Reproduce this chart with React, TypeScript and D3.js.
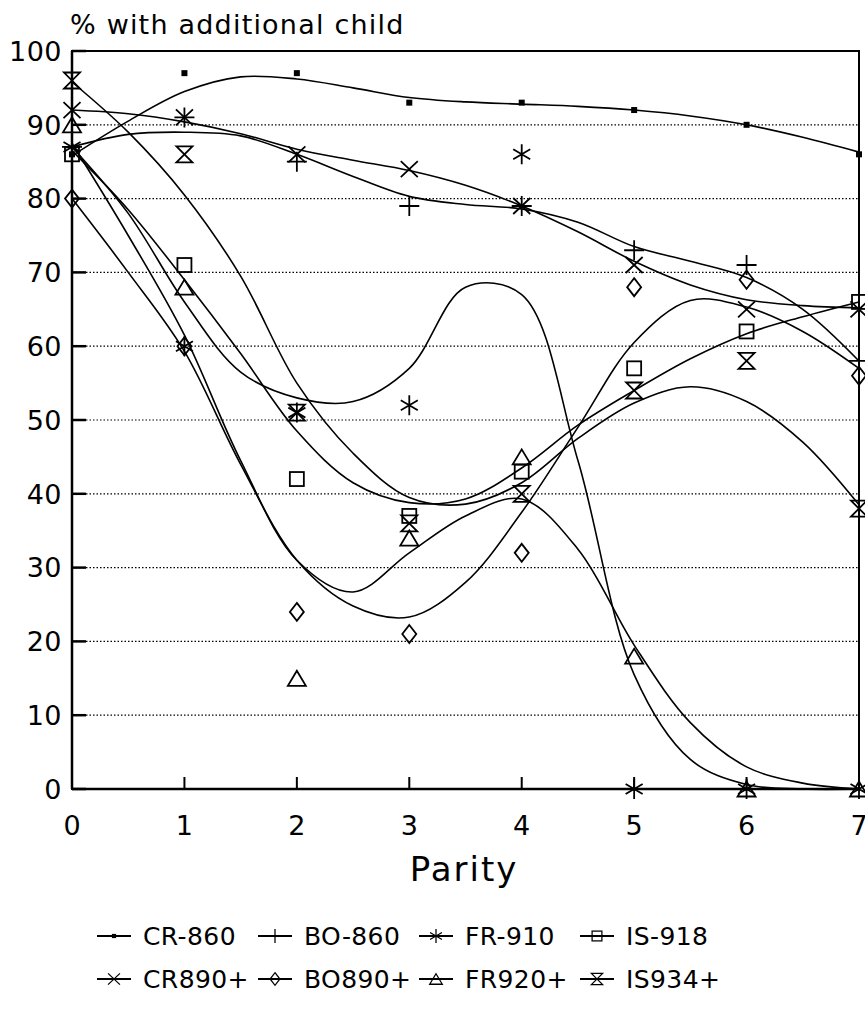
import React from "react";
import { scaleLinear, line, curveCatmullRom } from "d3";

const width = 865;
const height = 1021;

// parity values where the markers sit
const parity = [0, 1, 2, 3, 4, 5, 6, 7];
const fitParity = [0, 0.5, 1, 1.5, 2, 2.5, 3, 3.5, 4, 4.5, 5, 5.5, 6, 6.5, 7];

const yTicks = [0, 10, 20, 30, 40, 50, 60, 70, 80, 90, 100];
const xTicks = [0, 1, 2, 3, 4, 5, 6, 7];

// observed % with an additional child
const CR860 = [86, 97, 97, 93, 93, 92, 90, 86];
const BO860 = [87, 91, 85, 79, 79, 73, 71, 58];
const FR910 = [87, 60, 51, 52, 86, 0, 0, 0];
const IS918 = [86, 71, 42, 37, 43, 57, 62, 66];
const CR890 = [92, 91, 86, 84, 79, 71, 65, 65];
const BO890 = [80, 60, 24, 21, 32, 68, 69, 56];
const FR920 = [90, 68, 15, 34, 45, 18, 0, 0];
const IS934 = [96, 86, 51, 36, 40, 54, 58, 38];

// smoothed curves at fitParity
const CR860_FIT = [85.8, 90.5, 94.5, 96.5, 96.2, 95, 93.7, 93.1, 92.8, 92.5, 92, 91.2, 90, 88.3, 86.3];
const BO860_FIT = [87, 88.7, 89, 88.5, 86, 83, 80.3, 79.2, 78.6, 76.8, 73.5, 71.5, 69.3, 65, 58];
const FR910_FIT = [87, 78, 66, 56.5, 53, 52.5, 57, 68, 67, 44.5, 15.5, 4, 0.6, 0, 0];
const IS918_FIT = [86.5, 78.5, 69, 59, 48.5, 41.5, 38.8, 39.3, 43.5, 49.3, 54, 58.3, 61.7, 64, 66];
const CR890_FIT = [92, 91.5, 90.4, 88.8, 86.7, 85.2, 83.8, 81.8, 79, 75.5, 71.5, 68.3, 66.3, 65.5, 65.2];
const BO890_FIT = [80, 70, 59.3, 44, 31, 24.8, 23.3, 28, 37.5, 49, 60.5, 66.2, 65.3, 62, 57];
const FR920_FIT = [87.5, 75, 61.5, 44.5, 31, 26.7, 32, 37, 39.3, 32.5, 19.5, 9, 3, 0.8, 0];
const IS934_FIT = [95.8, 89, 80.5, 69.5, 55, 45.5, 39.5, 38.6, 41.5, 47.5, 52.3, 54.5, 52.5, 47, 38.5];

const names = ["CR-860", "BO-860", "FR-910", "IS-918", "CR890+", "BO890+", "FR920+", "IS934+"];
const markers = ["dot", "plus", "asterisk", "square", "cross", "diamond", "triangle", "hourglass"];

const series = [
  { values: CR860, fit: CR860_FIT },
  { values: BO860, fit: BO860_FIT },
  { values: FR910, fit: FR910_FIT },
  { values: IS918, fit: IS918_FIT },
  { values: CR890, fit: CR890_FIT },
  { values: BO890, fit: BO890_FIT },
  { values: FR920, fit: FR920_FIT },
  { values: IS934, fit: IS934_FIT },
].map((s, i) => ({ ...s, name: names[i], marker: markers[i] }));

const margin = { top: 51, right: 6, bottom: 232, left: 72 };
const innerWidth = width - margin.left - margin.right;
const innerHeight = height - margin.top - margin.bottom;

const font = "'DejaVu Sans', 'Liberation Sans', Arial, sans-serif";

const Marker = ({ type, x, y, s = 1 }: { type: string; x: number; y: number; s?: number }) => {
  const st = { fill: "none", stroke: "black", strokeWidth: 1.8 };
  const t = `translate(${x},${y}) scale(${s})`;
  switch (type) {
    case "dot":
      return <rect transform={t} x={-3} y={-3} width={6} height={6} fill="black" />;
    case "plus":
      return <path transform={t} d="M-10,0H10M0,-10V10" {...st} />;
    case "asterisk":
      return <path transform={t} d="M0,-10V10M-8.5,-5L8.5,5M-8.5,5L8.5,-5" {...st} />;
    case "square":
      return <rect transform={t} x={-7} y={-7} width={14} height={14} {...st} />;
    case "cross":
      return <path transform={t} d="M-8.5,-8L8.5,8M-8.5,8L8.5,-8" {...st} />;
    case "diamond":
      return <path transform={t} d="M0,-9L7,0L0,9L-7,0Z" {...st} />;
    case "triangle":
      return <path transform={t} d="M0,-7.5L9,7.5L-9,7.5Z" {...st} />;
    case "hourglass":
      return <path transform={t} d="M-8,-8L8,-8L-8,8L8,8Z" {...st} />;
    default:
      return null;
  }
};

export default function App() {
  const xScale = scaleLinear().domain([0, 7]).range([0, innerWidth]);
  const yScale = scaleLinear().domain([0, 100]).range([innerHeight, 0]);

  const curve = line<number>()
    .x((_, i) => xScale(fitParity[i]))
    .y((d) => yScale(d))
    .curve(curveCatmullRom.alpha(0.5));

  return (
    <svg
      width={width}
      height={height}
      style={{ position: "absolute", left: 0, top: 0, background: "white" }}
      fontFamily={font}
    >
      <text x={70} y={34} fontSize={27} letterSpacing={1.2}>
        % with additional child
      </text>
      <g transform={`translate(${margin.left},${margin.top})`}>
        {yTicks
          .filter((v) => v > 0 && v < 100)
          .map((v) => (
            <line
              key={"g" + v}
              x1={0}
              x2={innerWidth}
              y1={yScale(v)}
              y2={yScale(v)}
              stroke="black"
              strokeWidth={1.2}
              strokeDasharray="1.5 2"
            />
          ))}
        {yTicks.map((v) => (
          <g key={"y" + v} transform={`translate(0,${yScale(v)})`}>
            <line x2={14} stroke="black" strokeWidth={2.5} />
            <text x={-10} dy=".36em" textAnchor="end" fontSize={27} letterSpacing={0.5}>
              {v}
            </text>
          </g>
        ))}
        {xTicks.map((v) => (
          <g key={"x" + v} transform={`translate(${xScale(v)},${innerHeight})`}>
            <line y2={-12} stroke="black" strokeWidth={2} />
            <text y={46} textAnchor="middle" fontSize={27}>
              {v}
            </text>
          </g>
        ))}
        <rect x={0} y={0} width={innerWidth} height={innerHeight} fill="none" stroke="black" strokeWidth={2} />
        <line x1={0} x2={0} y1={0} y2={innerHeight} stroke="black" strokeWidth={2.5} />
        <line x1={0} x2={innerWidth} y1={innerHeight} y2={innerHeight} stroke="black" strokeWidth={2.5} />

        {series.map((s) => (
          <path key={"c" + s.name} d={curve(s.fit) || ""} fill="none" stroke="black" strokeWidth={1.6} />
        ))}
        {series.map((s) =>
          s.values.map((v, i) => (
            <Marker key={s.name + i} type={s.marker} x={xScale(parity[i])} y={yScale(v)} />
          ))
        )}

        <text x={392} y={innerHeight + 92} textAnchor="middle" fontSize={34} letterSpacing={2}>
          Parity
        </text>
      </g>

      <g transform="translate(97,936)" fontSize={25}>
        {series.map((s, i) => {
          const col = i % 4;
          const row = Math.floor(i / 4);
          return (
            <g key={"l" + s.name} transform={`translate(${col * 161},${row * 43})`}>
              <line x1={0} x2={34} stroke="black" strokeWidth={1.8} />
              <Marker type={s.marker} x={17} y={0} s={0.7} />
              <text x={46} dy=".36em" letterSpacing={0.4}>
                {s.name}
              </text>
            </g>
          );
        })}
      </g>
    </svg>
  );
}
